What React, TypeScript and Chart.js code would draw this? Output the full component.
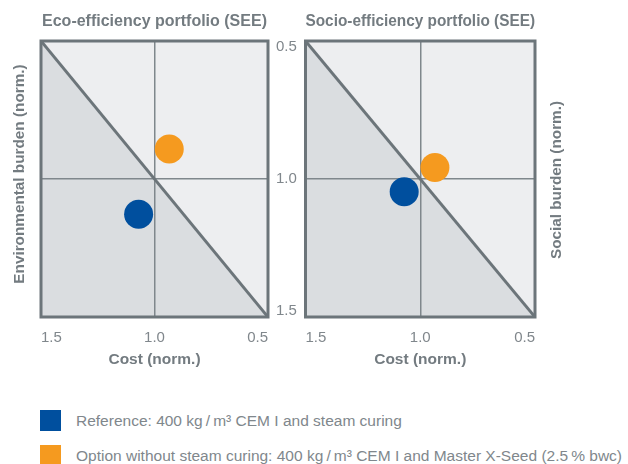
import React, { useEffect, useRef } from 'react';
import { Chart, registerables } from 'chart.js';

Chart.register(...registerables);

// ---- data ----
const seriesNames = [
  'Reference: 400 kg\u2009/\u2009m\u00B3 CEM I and steam curing',
  'Option without steam curing: 400 kg\u2009/\u2009m\u00B3 CEM I and Master X-Seed (2.5\u2009% bwc)',
];
const seriesColors = ['#004f9e', '#f59a1f'];
const costEco = [1.07, 0.935];
const envBurden = [1.128, 0.891];
const costSocio = [1.07, 0.936];
const socialBurden = [1.046, 0.958];
const tickValues = [0.5, 1.0, 1.5];
const tickLabels = ['0.5', '1.0', '1.5'];
const diagonalX = [1.5, 0.5];
const diagonalY = [0.5, 1.5];
const chartTitles = ['Eco-efficiency portfolio (SEE)', 'Socio-efficiency portfolio (SEE)'];
const xTitle = 'Cost (norm.)';
const yTitles = ['Environmental burden (norm.)', 'Social burden (norm.)'];

// ---- styles ----
const FONT = "'Liberation Sans', Arial, Helvetica, sans-serif";
const TITLE_COLOR = '#737b80';
const TICK_COLOR = '#80878c';
const FRAME_COLOR = '#6c757a';
const MID_COLOR = '#7f878c';
const LIGHT_BG = '#edeef0';
const DARK_BG = '#dadde0';

const quadrantPlugin = {
  id: 'quadrant',
  beforeDraw(chart: any) {
    const { ctx, scales } = chart;
    const xs = scales.x;
    const ys = scales.y;
    const l = xs.getPixelForValue(1.5);
    const r = xs.getPixelForValue(0.5);
    const t = ys.getPixelForValue(0.5);
    const b = ys.getPixelForValue(1.5);
    ctx.save();
    ctx.fillStyle = LIGHT_BG;
    ctx.beginPath();
    ctx.moveTo(l, t);
    ctx.lineTo(r, t);
    ctx.lineTo(r, b);
    ctx.closePath();
    ctx.fill();
    ctx.fillStyle = DARK_BG;
    ctx.beginPath();
    ctx.moveTo(l, t);
    ctx.lineTo(l, b);
    ctx.lineTo(r, b);
    ctx.closePath();
    ctx.fill();
    ctx.restore();
  },
  beforeDatasetsDraw(chart: any) {
    const { ctx, chartArea } = chart;
    ctx.save();
    ctx.strokeStyle = FRAME_COLOR;
    ctx.lineWidth = 3;
    ctx.strokeRect(chartArea.left, chartArea.top, chartArea.right - chartArea.left, chartArea.bottom - chartArea.top);
    ctx.restore();
  },
  afterDraw(chart: any, _args: any, opts: any) {
    if (!opts || !opts.yTitle) return;
    const { ctx, chartArea } = chart;
    const x = opts.side === 'right' ? chartArea.right + 22 : chartArea.left - 21.5;
    ctx.save();
    ctx.translate(x, (chartArea.top + chartArea.bottom) / 2 + (opts.dy || 0));
    ctx.rotate(-Math.PI / 2);
    ctx.font = `bold 15.3px ${FONT}`;
    ctx.fillStyle = TITLE_COLOR;
    ctx.textAlign = 'center';
    ctx.textBaseline = 'middle';
    ctx.fillText(opts.yTitle, 0, 0);
    ctx.restore();
  },
};

const midGrid = (ctx: any) => (ctx.tick && ctx.tick.value === 1 ? MID_COLOR : 'rgba(0,0,0,0)');

function setTicks(scale: any) {
  scale.ticks = tickValues.map((v) => ({ value: v }));
}

function labelFor(v: number) {
  const i = tickValues.findIndex((t) => Math.abs(t - v) < 1e-9);
  return i >= 0 ? tickLabels[i] : '';
}

function buildConfig(idx: number) {
  const xs = idx === 0 ? costEco : costSocio;
  const ys = idx === 0 ? envBurden : socialBurden;
  const datasets: any[] = seriesNames.map((name, i) => ({
    type: 'scatter',
    label: name,
    data: [{ x: xs[i], y: ys[i] }],
    backgroundColor: seriesColors[i],
    borderWidth: 0,
    pointRadius: 14.5,
    pointHoverRadius: 14.5,
    order: 0,
  }));
  datasets.push({
    type: 'line',
    label: 'diagonal',
    data: diagonalX.map((x, i) => ({ x, y: diagonalY[i] })),
    borderColor: FRAME_COLOR,
    borderWidth: 3,
    pointRadius: 0,
    fill: false,
    order: 5,
  });

  const xScale = {
    type: 'linear',
    min: 0.5,
    max: 1.5,
    reverse: true,
    afterBuildTicks: setTicks,
    afterFit: (s: any) => {
      s.height = 63;
    },
    grid: { color: midGrid, lineWidth: 1.5, drawTicks: false },
    border: { display: false },
    ticks: {
      align: 'inner',
      padding: 12,
      maxRotation: 0,
      color: TICK_COLOR,
      font: { family: FONT, size: 15 },
      callback: (v: number) => labelFor(v),
    },
    title: {
      display: true,
      text: xTitle,
      color: TITLE_COLOR,
      font: { family: FONT, size: 15.5, weight: 'bold' },
      padding: { top: 0, bottom: 10.5 },
    },
  };

  const scales: any = { x: xScale };
  if (idx === 0) {
    scales.y = {
      type: 'linear',
      position: 'left',
      min: 0.5,
      max: 1.5,
      reverse: true,
      afterBuildTicks: setTicks,
      afterFit: (s: any) => {
        s.width = 41;
      },
      grid: { color: midGrid, lineWidth: 1.5, drawTicks: false },
      border: { display: false },
      ticks: { display: false },
      title: { display: false },
    };
    scales.y2 = {
      type: 'linear',
      position: 'right',
      min: 0.5,
      max: 1.5,
      reverse: true,
      afterBuildTicks: setTicks,
      afterFit: (s: any) => {
        s.width = 32;
      },
      grid: { display: false, drawTicks: false },
      border: { display: false },
      ticks: {
        padding: 8,
        color: TICK_COLOR,
        font: { family: FONT, size: 15, lineHeight: 0.8 },
        callback: (v: number) => {
          const lbl = labelFor(v);
          if (Math.abs(v - 0.5) < 1e-9) return ['', lbl];
          if (Math.abs(v - 1.5) < 1e-9) return [lbl, ''];
          return lbl;
        },
      },
    };
  } else {
    scales.y = {
      type: 'linear',
      position: 'right',
      min: 0.5,
      max: 1.5,
      reverse: true,
      afterBuildTicks: setTicks,
      afterFit: (s: any) => {
        s.width = 40;
      },
      grid: { color: midGrid, lineWidth: 1.5, drawTicks: false },
      border: { display: false },
      ticks: { display: false },
      title: { display: false },
    };
  }

  return {
    type: 'scatter',
    data: { datasets },
    plugins: [quadrantPlugin],
    options: {
      responsive: false,
      animation: false,
      layout: { padding: idx === 0 ? 0 : { left: 6 } },
      scales,
      plugins: {
        legend: { display: false },
        tooltip: { enabled: false },
        title: {
          display: true,
          text: chartTitles[idx],
          fullSize: false,
          color: TITLE_COLOR,
          font: { family: FONT, size: 16, weight: 'bold', lineHeight: 1.2 },
          padding: { top: 12, bottom: 9.8 },
        },
        quadrant:
          idx === 1
            ? { yTitle: yTitles[1], side: 'right', dy: 1 }
            : { yTitle: yTitles[0], side: 'left', dy: -5 },
      },
    },
  };
}

function PortfolioChart({ idx, width, height }: { idx: number; width: number; height: number }) {
  const ref = useRef<HTMLCanvasElement | null>(null);
  useEffect(() => {
    if (!ref.current) return;
    const chart = new Chart(ref.current, buildConfig(idx) as any);
    return () => chart.destroy();
  }, [idx]);
  return <canvas ref={ref} width={width} height={height} style={{ width, height, display: 'block' }} />;
}

export default function App() {
  return (
    <div style={{ position: 'fixed', left: 0, top: 0, width: 628, height: 464, background: '#fff', overflow: 'hidden' }}>
      <div style={{ position: 'absolute', left: 0, top: 0 }}>
        <PortfolioChart idx={0} width={300} height={380} />
      </div>
      <div style={{ position: 'absolute', left: 291, top: 0 }}>
        <PortfolioChart idx={1} width={284} height={380} />
      </div>
      {seriesNames.map((name, i) => (
        <div
          key={i}
          style={{
            position: 'absolute',
            left: 40,
            top: 410 + i * 35,
            height: 21,
            display: 'flex',
            alignItems: 'center',
            whiteSpace: 'nowrap',
          }}
        >
          <div style={{ width: 21, height: 21, background: seriesColors[i], flex: 'none' }} />
          <span style={{ marginLeft: 15, fontFamily: FONT, fontSize: 15.5, color: TICK_COLOR }}>{name}</span>
        </div>
      ))}
    </div>
  );
}
